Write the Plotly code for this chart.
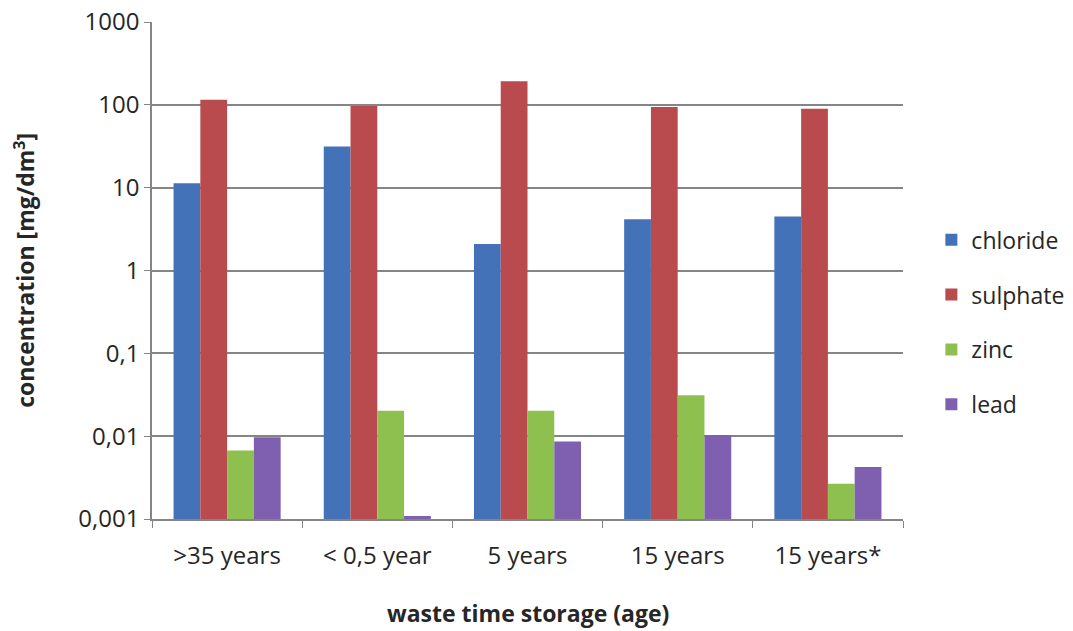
import plotly.graph_objects as go

categories = [">35 years", "< 0,5 year", "5 years", "15 years", "15 years*"]
chloride = [11.3, 31.3, 2.09, 4.17, 4.48]
sulphate = [115, 97, 193, 94, 89.5]
zinc = [0.0067, 0.0203, 0.0203, 0.0312, 0.00267]
lead = [0.0097, 0.00109, 0.0086, 0.0103, 0.00425]

tick_vals = [0.001, 0.01, 0.1, 1, 10, 100, 1000]
tick_text = ["0,001", "0,01", "0,1", "1", "10", "100", "1000"]

series = [
    ("chloride", chloride, "#4472b8"),
    ("sulphate", sulphate, "#b94a4d"),
    ("zinc", zinc, "#8dc04f"),
    ("lead", lead, "#7f60b0"),
]

FONT = "Open Sans, Liberation Sans, sans-serif"
TEXT_COLOR = "#262626"
GRID = "#858585"

fig = go.Figure()
for name, values, color in series:
    fig.add_trace(go.Bar(
        name=name, x=categories, y=values,
        marker=dict(color=color, line=dict(width=0)),
        legendgroup=name,
    ))

fig.update_layout(
    width=1073, height=631,
    margin=dict(l=152, r=170, t=22, b=112, pad=0),
    paper_bgcolor="white", plot_bgcolor="white",
    barmode="group", bargap=0.287, bargroupgap=0,
    font=dict(family=FONT, size=24, color=TEXT_COLOR),
    showlegend=True,
    legend=dict(
        xref="container", x=0.868, y=0.396, xanchor="left", yanchor="middle",
        font=dict(size=23, color=TEXT_COLOR),
        tracegroupgap=22, itemwidth=30, borderwidth=0,
        bgcolor="rgba(0,0,0,0)",
    ),
    xaxis=dict(
        showgrid=False, showline=True, linecolor=GRID, linewidth=1.5,
        ticks="outside", ticklen=7, tickcolor=GRID, tickson="boundaries",
        tickfont=dict(size=24, color=TEXT_COLOR),
        ticklabelstandoff=14, automargin=False,
    ),
    yaxis=dict(
        type="log", range=[-3, 3],
        tickvals=tick_vals, ticktext=tick_text,
        showgrid=True, gridcolor=GRID, gridwidth=1.5,
        showline=True, linecolor=GRID, linewidth=1.5,
        ticks="outside", ticklen=6, tickcolor=GRID,
        tickfont=dict(size=24, color=TEXT_COLOR),
        zeroline=False, automargin=False,
    ),
    annotations=[
        dict(text="<b>concentration [mg/dm<sup>3</sup>]</b>", xref="paper", yref="paper",
             x=-0.17, y=0.5, xanchor="center", yanchor="middle", textangle=-90,
             showarrow=False, font=dict(size=23, color=TEXT_COLOR, family=FONT)),
        dict(text="<b>waste time storage (age)</b>", xref="paper", yref="paper",
             x=0.5, y=-0.19, xanchor="center", yanchor="middle",
             showarrow=False, font=dict(size=23, color=TEXT_COLOR, family=FONT)),
    ],
)

fig.write_html("out.html")
